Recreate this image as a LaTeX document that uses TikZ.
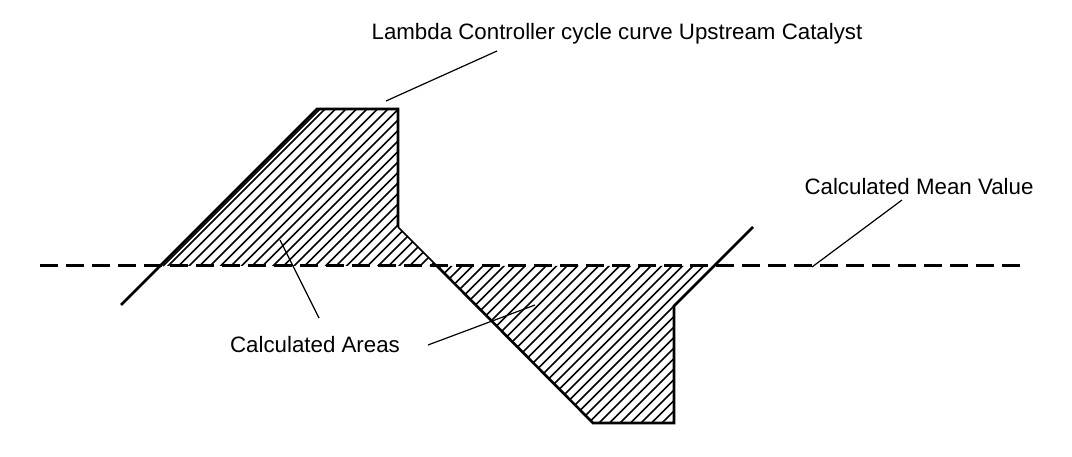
\documentclass[tikz,border=0pt]{standalone}
\usepackage{fontspec}
\setmainfont{Liberation Sans}
\usetikzlibrary{calc}

\begin{document}
\begin{tikzpicture}[x=1pt,y=1pt,line join=miter]
  \tikzstyle{curve} = [line width=2.6pt]
  \tikzstyle{mean} = [line width=3pt,dash pattern=on 18pt off 8pt]
  \tikzstyle{hatch} = [line width=1.7pt]
  \tikzstyle{leader} = [line width=1.2pt]
  \tikzstyle{caption} = [font=\fontsize{22.3}{26}\selectfont,inner sep=0pt,anchor=base]

  \useasboundingbox (0,0) rectangle (1072,456);

  % cycle curve
  \coordinate (start) at (121,151);
  \coordinate (topleft) at (317,347);
  \coordinate (topright) at (398,347);
  \coordinate (drop) at (398,229);
  \coordinate (cross) at (437,190);
  \coordinate (botleft) at (593,33);
  \coordinate (botright) at (674,33);
  \coordinate (rise) at (674,150);
  \coordinate (end) at (753,229);
  \coordinate (lcross) at (160,190);
  \coordinate (rcross) at (714,190);

  % hatched areas
  \begin{scope}
    \clip (lcross) -- (topleft) -- (topright) -- (drop) -- (cross) -- cycle
          (cross) -- (botleft) -- (botright) -- (rise) -- (rcross) -- cycle;
    \foreach \c in {-190,-179.5,...,700}
      \draw[hatch] (\c+20,20) -- (\c+370,370);
  \end{scope}
  \draw[hatch] ($(lcross)+(3,0)$) -- ($(topleft)+(3,0)$);
  \draw[hatch] (drop) -- (cross);

  % mean value
  \coordinate (mstart) at (40,190);
  \coordinate (mend) at (1023,190);
  \draw[mean] (mstart) -- (mend);

  \draw[curve] (start) -- (topleft) -- (topright) -- (drop);
  \draw[curve] (cross) -- (botleft) -- (botright) -- (rise) -- (end);

  % labels
  \node[caption] (title) at (617,416) {Lambda Controller cycle curve Upstream Catalyst};
  \node[caption] (meanlabel) at (919,261) {Calculated Mean Value};
  \node[caption] (areas) at (315,104) {Calculated Areas};

  \coordinate (t1) at (497,405);
  \coordinate (t2) at (386,355);
  \coordinate (v1) at (902,256);
  \coordinate (v2) at (812,189);
  \coordinate (a1) at (319,138);
  \coordinate (a2) at (280,216);
  \coordinate (a3) at (428,111);
  \coordinate (a4) at (535,151);
  \draw[leader] (t1) -- (t2);
  \draw[leader] (v1) -- (v2);
  \draw[leader] (a1) -- (a2);
  \draw[leader] (a3) -- (a4);

\end{tikzpicture}
\end{document}
